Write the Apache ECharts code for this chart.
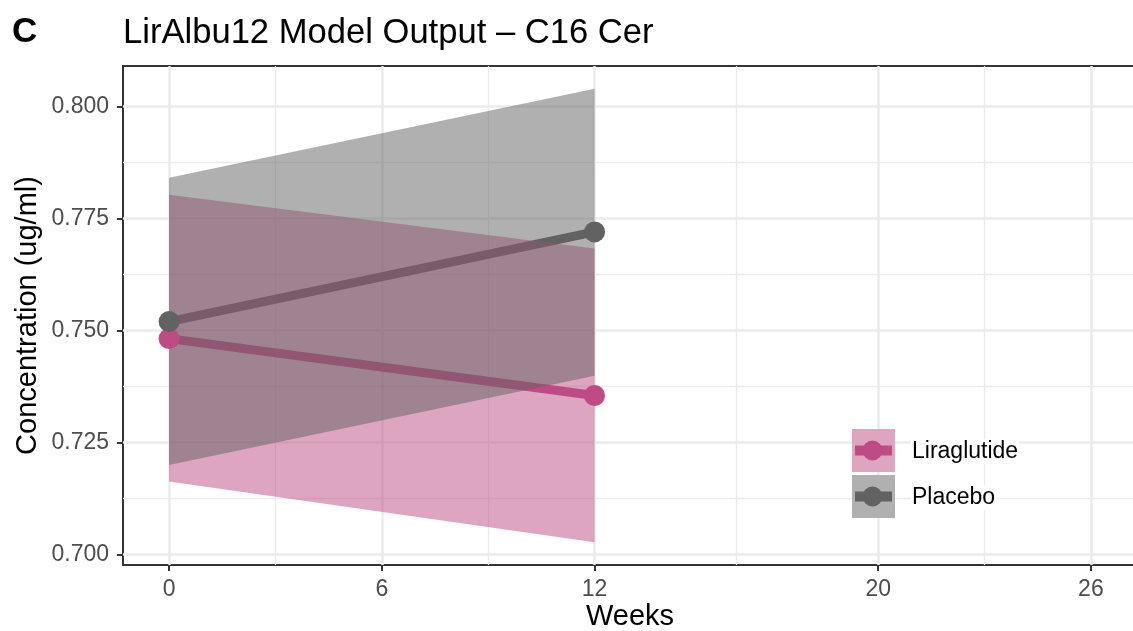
<!DOCTYPE html>
<html>
<head>
<meta charset="utf-8">
<script src="https://cdn.jsdelivr.net/npm/echarts@6/dist/echarts.min.js"></script>
<style>
html,body{margin:0;padding:0;background:#fff;}
#chart{width:1133px;height:631px;}
</style>
</head>
<body>
<div id="chart"></div>
<script>
// ---- data ----
const weeks = [0, 12];
const liraMean  = [0.7482, 0.7355];
const liraLower = [0.7163, 0.7028];
const liraUpper = [0.7803, 0.7683];
const placMean  = [0.7520, 0.7720];
const placLower = [0.7200, 0.7399];
const placUpper = [0.7841, 0.8039];
const groupNames = ['Liraglutide', 'Placebo'];
const xMajorTicks = [0, 6, 12, 20, 26];
const xMinorTicks = [3, 9, 16, 23];
const yMajorTicks = [0.700, 0.725, 0.750, 0.775, 0.800];
const yMinorTicks = [0.7125, 0.7375, 0.7625, 0.7875];

const PINK = '#BE4B83';
const GREY = '#626262';
const FONT = '"Liberation Sans", Arial, Helvetica, sans-serif';

function pairs(xs, ys){ return xs.map((x,i)=>[x, ys[i]]); }
function segs(xs, lo, hi){
  const out = [];
  for (let i = 0; i < xs.length - 1; i++) out.push([xs[i], lo[i], hi[i], xs[i+1], lo[i+1], hi[i+1]]);
  return out;
}
function ribbon(name, color, lo, hi){
  return {
    type: 'custom', name: name, z: 3,
    data: segs(weeks, lo, hi),
    encode: {x: [0, 3], y: [1, 2, 4, 5]},
    renderItem: function(params, api){
      const a = api.coord([api.value(0), api.value(1)]);
      const b = api.coord([api.value(3), api.value(4)]);
      const c = api.coord([api.value(3), api.value(5)]);
      const d = api.coord([api.value(0), api.value(2)]);
      return {type: 'polygon', shape: {points: [a, b, c, d]}, style: {fill: color, opacity: 0.5}};
    }
  };
}

const chart = echarts.init(document.getElementById('chart'), null, {renderer: 'canvas'});
const tickLabel = {color: '#4D4D4D', fontSize: 23, fontFamily: FONT};
const majorSplit = {show: true, lineStyle: {color: '#EBEBEB', width: 2.5}};
const minorSplit = {show: true, lineStyle: {color: '#EBEBEB', width: 1.3}};
const noLine = {show: false, onZero: false};

// legend built from the group names and colours
const legendColors = [PINK, GREY];
const legendChildren = [];
groupNames.forEach((name, i) => {
  const y0 = i * 46;
  const c = legendColors[i];
  legendChildren.push(
    {type: 'rect', z: 100, shape: {x: 0, y: y0, width: 43, height: 43}, style: {fill: '#fff'}},
    {type: 'rect', z: 101, shape: {x: 0, y: y0, width: 43, height: 43}, style: {fill: c, opacity: 0.5}},
    {type: 'line', z: 102, shape: {x1: 3, y1: y0 + 21.5, x2: 40, y2: y0 + 21.5}, style: {stroke: c, lineWidth: 10}},
    {type: 'circle', z: 103, shape: {cx: 20.5, cy: y0 + 21.5, r: 10}, style: {fill: c}},
    {type: 'text', z: 100, x: 59, y: y0 + 22.5, style: {text: name, font: '23px ' + FONT, fill: '#000', verticalAlign: 'middle', backgroundColor: '#fff', padding: [1, 1]}}
  );
});

chart.setOption({
  animation: false,
  backgroundColor: '#fff',
  title: [
    {text: 'C', left: 12, top: 15, padding: 0, textStyle: {fontSize: 35, fontWeight: 'bold', color: '#000', fontFamily: FONT}},
    {text: 'LirAlbu12 Model Output – C16 Cer', left: 123, top: 16, padding: 0, textStyle: {fontSize: 34.6, fontWeight: 'normal', color: '#000', fontFamily: FONT}}
  ],
  grid: {left: 123, top: 66, width: 1014, height: 499, outerBoundsMode: 'none', containLabel: false,
         show: true, borderColor: '#333', borderWidth: 2, backgroundColor: 'transparent'},
  xAxis: [
    {type: 'value', min: -1.3, max: 27.3, name: 'Weeks', nameLocation: 'middle', nameGap: 37, nameMoveOverlap: false,
     nameTextStyle: {color: '#000', fontSize: 29, fontFamily: FONT},
     axisLine: noLine,
     axisTick: {show: true, length: 6, customValues: xMajorTicks, lineStyle: {color: '#333', width: 2}},
     axisLabel: {show: true, customValues: xMajorTicks, margin: 13, ...tickLabel},
     splitLine: majorSplit},
    {type: 'value', min: -1.3, max: 27.3, position: 'bottom',
     axisLine: noLine, axisTick: {show: false, customValues: xMinorTicks},
     axisLabel: {show: false, customValues: xMinorTicks}, splitLine: minorSplit}
  ],
  yAxis: [
    {type: 'value', min: 0.6977, max: 0.8090, name: 'Concentration (ug/ml)', nameLocation: 'middle', nameGap: 81, nameMoveOverlap: false,
     nameTextStyle: {color: '#000', fontSize: 29, fontFamily: FONT},
     axisLine: noLine,
     axisTick: {show: true, length: 6, customValues: yMajorTicks, lineStyle: {color: '#333', width: 2}},
     axisLabel: {show: true, customValues: yMajorTicks, margin: 14, formatter: v => v.toFixed(3), ...tickLabel},
     splitLine: majorSplit},
    {type: 'value', min: 0.6977, max: 0.8090, position: 'left',
     axisLine: noLine, axisTick: {show: false, customValues: yMinorTicks},
     axisLabel: {show: false, customValues: yMinorTicks}, splitLine: minorSplit}
  ],
  series: [
    {type: 'line', name: groupNames[0], z: 2, data: pairs(weeks, liraMean), showSymbol: false, symbol: 'none', lineStyle: {color: PINK, width: 9}},
    {type: 'line', name: groupNames[1], z: 2, data: pairs(weeks, placMean), showSymbol: false, symbol: 'none', lineStyle: {color: GREY, width: 9}},
    ribbon(groupNames[0], PINK, liraLower, liraUpper),
    ribbon(groupNames[1], GREY, placLower, placUpper),
    {type: 'scatter', name: groupNames[0], z: 4, data: pairs(weeks, liraMean), symbolSize: 21, itemStyle: {color: PINK, opacity: 1}},
    {type: 'scatter', name: groupNames[1], z: 4, data: pairs(weeks, placMean), symbolSize: 21, itemStyle: {color: GREY, opacity: 1}}
  ],
  graphic: [
    {type: 'group', left: 850, top: 429, z: 100, zlevel: 1, children: legendChildren}
  ]
});
</script>
</body>
</html>
